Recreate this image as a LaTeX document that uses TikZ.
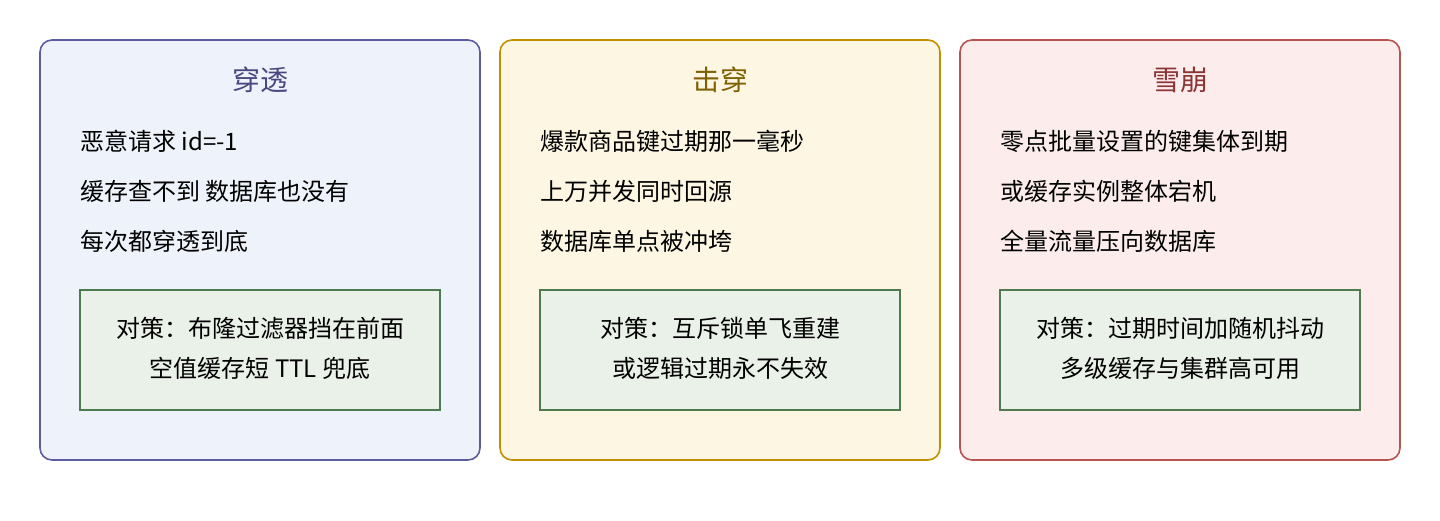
\documentclass[tikz,border=0pt]{standalone}
\usepackage{fontspec}
\setmainfont{Noto Sans CJK SC}
\definecolor{pOneLine}{HTML}{5E5CA0}
\definecolor{pOneFill}{HTML}{EEF2FB}
\definecolor{pOneText}{HTML}{48477F}
\definecolor{pTwoLine}{HTML}{BF9000}
\definecolor{pTwoFill}{HTML}{FDF6E3}
\definecolor{pTwoText}{HTML}{7F6000}
\definecolor{pThreeLine}{HTML}{B85450}
\definecolor{pThreeFill}{HTML}{FCECEC}
\definecolor{pThreeText}{HTML}{8A3434}
\definecolor{fixLine}{HTML}{4F7A4F}
\definecolor{fixFill}{HTML}{EAF1E8}
\tikzset{
  panel/.style={line width=1.6pt, rounded corners=12pt},
  fixbox/.style={draw=fixLine, fill=fixFill, line width=1.6pt},
  title/.style={font=\fontsize{28}{32}\selectfont, inner sep=0pt},
  line/.style={font=\fontsize{24}{28}\selectfont, anchor=west, inner sep=0pt},
  fix/.style={font=\fontsize{24}{28}\selectfont, inner sep=0pt, align=center}
}
\begin{document}
\begin{tikzpicture}[x=1pt, y=-1pt]
  \useasboundingbox (0,0) rectangle (1440,520);

  % penetration
  \draw[panel, draw=pOneLine, fill=pOneFill] (40,40) rectangle (480,460);
  \node[title, text=pOneText] (titleOne) at (260,80) {穿透};
  \node[line] (oneA) at (80,141) {恶意请求 id=-1};
  \node[line] (oneB) at (80,191) {缓存查不到 数据库也没有};
  \node[line] (oneC) at (80,241) {每次都穿透到底};
  \draw[fixbox] (80,290) rectangle (440,410);
  \node[fix] (fixOneA) at (260,328) {对策：布隆过滤器挡在前面};
  \node[fix] (fixOneB) at (260,368) {空值缓存短 TTL 兜底};

  % breakdown
  \draw[panel, draw=pTwoLine, fill=pTwoFill] (500,40) rectangle (940,460);
  \node[title, text=pTwoText] (titleTwo) at (720,80) {击穿};
  \node[line] (twoA) at (540,141) {爆款商品键过期那一毫秒};
  \node[line] (twoB) at (540,191) {上万并发同时回源};
  \node[line] (twoC) at (540,241) {数据库单点被冲垮};
  \draw[fixbox] (540,290) rectangle (900,410);
  \node[fix] (fixTwoA) at (720,328) {对策：互斥锁单飞重建};
  \node[fix] (fixTwoB) at (720,368) {或逻辑过期永不失效};

  % avalanche
  \draw[panel, draw=pThreeLine, fill=pThreeFill] (960,40) rectangle (1400,460);
  \node[title, text=pThreeText] (titleThree) at (1180,80) {雪崩};
  \node[line] (threeA) at (1000,141) {零点批量设置的键集体到期};
  \node[line] (threeB) at (1000,191) {或缓存实例整体宕机};
  \node[line] (threeC) at (1000,241) {全量流量压向数据库};
  \draw[fixbox] (1000,290) rectangle (1360,410);
  \node[fix] (fixThreeA) at (1180,328) {对策：过期时间加随机抖动};
  \node[fix] (fixThreeB) at (1180,368) {多级缓存与集群高可用};

\end{tikzpicture}
\end{document}
